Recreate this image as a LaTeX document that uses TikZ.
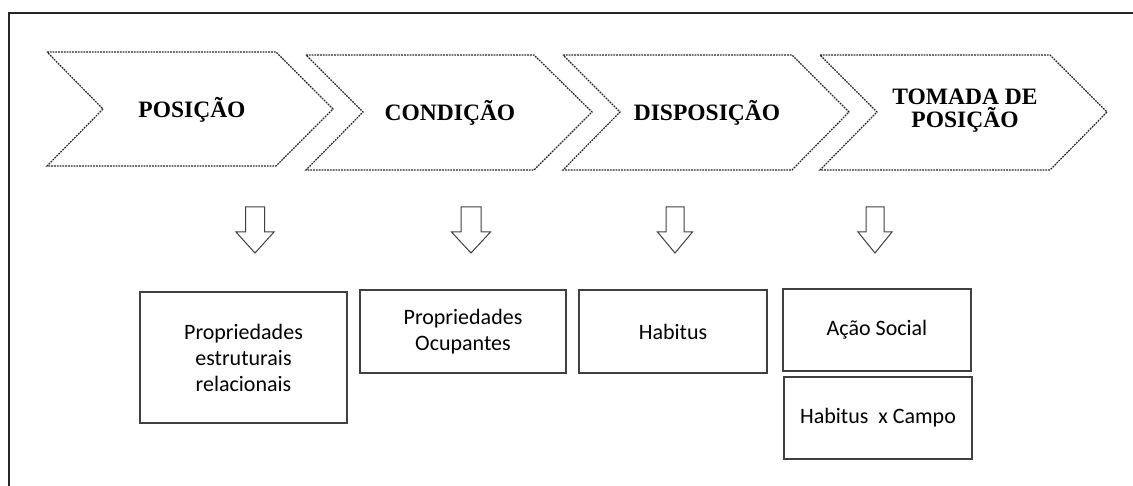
\documentclass[tikz,border=0pt]{standalone}
\usepackage{fontspec}
\setmainfont{Liberation Serif}
\setsansfont{Carlito}
\begin{document}
\begin{tikzpicture}[x=1pt,y=-1pt,
  chev/.style={draw=black!85,line width=1.2pt,dash pattern=on 1.8pt off 1pt},
  chevtext/.style={font=\fontsize{23.5}{23}\selectfont\bfseries,align=center,inner sep=0pt},
  blockarrow/.style={draw=black!75,line width=1pt,fill=white},
  infobox/.style={draw=black!75,line width=1.2pt,font=\sffamily\fontsize{22}{26}\selectfont,align=center,inner sep=0pt},
  frameline/.style={draw=black!85,line width=1.6pt}]
\useasboundingbox (0,0) rectangle (1133,486);
\draw[frameline] (9,486) -- (9,13) -- (1133,13);
% chevrons
\draw[chev] (47,52) -- (276,52) -- (333,109) -- (276,166) -- (47,166) -- (103,109) -- cycle;
\draw[chev] (306,55) -- (534,55) -- (592,112) -- (534,170) -- (306,170) -- (363,112) -- cycle;
\draw[chev] (563,55) -- (792,55) -- (849,112) -- (792,170) -- (563,170) -- (620,112) -- cycle;
\draw[chev] (820,55) -- (1050,55) -- (1107,112) -- (1050,170) -- (820,170) -- (877,112) -- cycle;
\node[chevtext] (t1) at (192,110) {POSIÇÃO};
\node[chevtext] (t2) at (450,113) {CONDIÇÃO};
\node[chevtext] (t3) at (707,113) {DISPOSIÇÃO};
\node[chevtext] (t4) at (965,111) {TOMADA DE\\POSIÇÃO};
% block arrows
\foreach \cx/\hw/\sw in {255/19/9.5, 471/19.5/10, 675/17.5/9, 875/17/9}{
  \draw[blockarrow] (\cx-\sw,207) -- (\cx+\sw,207) -- (\cx+\sw,232) -- (\cx+\hw,232)
    -- (\cx,253) -- (\cx-\hw,232) -- (\cx-\sw,232) -- cycle;
}
% boxes
\node[infobox,minimum width=207pt,minimum height=131pt] (b1) at (243.5,357.5) {Propriedades\\estruturais\\relacionais};
\node[infobox,minimum width=206pt,minimum height=83pt] (b2) at (463,331.5) {Propriedades\\Ocupantes};
\node[infobox,minimum width=188pt,minimum height=83pt] (b3) at (673,331.5) {Habitus};
\node[infobox,minimum width=188pt,minimum height=82pt] (b4) at (877,330) {Ação Social};
\node[infobox,minimum width=188pt,minimum height=82pt] (b5) at (878,418) {Habitus~ x Campo};
\end{tikzpicture}
\end{document}
